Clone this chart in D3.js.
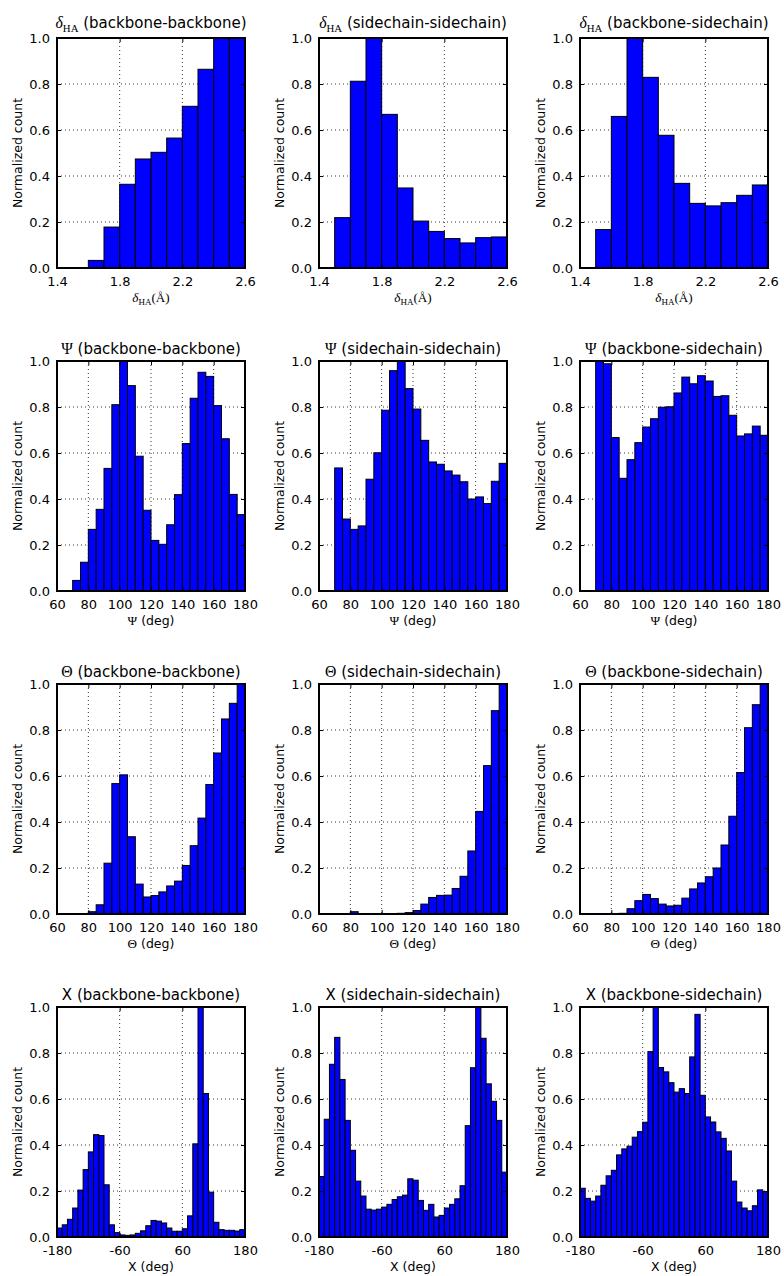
<!DOCTYPE html>
<html><head><meta charset="utf-8">
<script src="https://cdn.jsdelivr.net/npm/d3@7"></script>
<style>
body{margin:0;background:#fff}
svg{display:block}
text{font-family:"DejaVu Sans",sans-serif;fill:#000}
</style>
</head><body>
<svg id="chart" width="784" height="1276"></svg>
<script>
// ---------- data ----------
const pairs = ["backbone-backbone", "sidechain-sidechain", "backbone-sidechain"];
const yTicks = [0, 0.2, 0.4, 0.6, 0.8, 1.0];
const yTickLabels = ["0.0", "0.2", "0.4", "0.6", "0.8", "1.0"];

const deltaBins = [1.4, 1.5, 1.6, 1.7, 1.8, 1.9, 2.0, 2.1, 2.2, 2.3, 2.4, 2.5];
const deltaTicks = [1.4, 1.8, 2.2, 2.6];
const deltaTickLabels = ["1.4", "1.8", "2.2", "2.6"];
const angleBins = [60, 65, 70, 75, 80, 85, 90, 95, 100, 105, 110, 115, 120, 125, 130, 135, 140, 145, 150, 155, 160, 165, 170, 175];
const angleTicks = [60, 80, 100, 120, 140, 160, 180];
const angleTickLabels = ["60", "80", "100", "120", "140", "160", "180"];
const chiBins = [-180, -170, -160, -150, -140, -130, -120, -110, -100, -90, -80, -70, -60, -50, -40, -30, -20, -10,
                 0, 10, 20, 30, 40, 50, 60, 70, 80, 90, 100, 110, 120, 130, 140, 150, 160, 170];
const chiTicks = [-180, -60, 60, 180];
const chiTickLabels = ["-180", "-60", "60", "180"];

const deltaBB = [0, 0, 0.033, 0.178, 0.364, 0.474, 0.503, 0.565, 0.703, 0.864, 1.0, 1.0];
const deltaSS = [0, 0.219, 0.812, 1.0, 0.668, 0.348, 0.204, 0.159, 0.128, 0.109, 0.132, 0.135];
const deltaBS = [0, 0.167, 0.659, 1.0, 0.829, 0.577, 0.368, 0.281, 0.27, 0.284, 0.316, 0.361];

const psiBB = [0, 0, 0.046, 0.125, 0.268, 0.355, 0.533, 0.81, 1.0, 0.893, 0.586, 0.351, 0.22, 0.203, 0.288, 0.419, 0.641, 0.838, 0.951, 0.933, 0.806, 0.662, 0.42, 0.332];
const psiSS = [0, 0, 0.535, 0.313, 0.268, 0.283, 0.486, 0.601, 0.786, 0.958, 1.0, 0.88, 0.791, 0.655, 0.561, 0.551, 0.522, 0.504, 0.475, 0.4, 0.409, 0.38, 0.477, 0.555];
const psiBS = [0, 0, 1.0, 0.988, 0.667, 0.49, 0.571, 0.645, 0.713, 0.749, 0.799, 0.801, 0.861, 0.93, 0.901, 0.936, 0.913, 0.846, 0.849, 0.764, 0.674, 0.683, 0.717, 0.677];

const thetaBB = [0, 0, 0, 0, 0.01, 0.04, 0.221, 0.567, 0.605, 0.336, 0.13, 0.074, 0.08, 0.096, 0.122, 0.143, 0.211, 0.297, 0.417, 0.563, 0.7, 0.848, 0.916, 1.0];
const thetaSS = [0, 0, 0, 0, 0.01, 0.001, 0.001, 0.001, 0.001, 0.002, 0.003, 0.006, 0.015, 0.043, 0.072, 0.081, 0.082, 0.111, 0.164, 0.274, 0.446, 0.645, 0.884, 1.0];
const thetaBS = [0, 0, 0, 0, 0.001, 0.003, 0.023, 0.058, 0.085, 0.067, 0.043, 0.035, 0.038, 0.069, 0.109, 0.135, 0.162, 0.2, 0.3, 0.425, 0.615, 0.81, 0.91, 1.0];

const chiBB = [0.039, 0.053, 0.077, 0.126, 0.204, 0.293, 0.37, 0.445, 0.441, 0.227, 0.053, 0.019, 0.009, 0.007, 0.009, 0.016, 0.027, 0.049,
               0.072, 0.069, 0.061, 0.039, 0.025, 0.025, 0.036, 0.092, 0.405, 1.0, 0.624, 0.195, 0.064, 0.032, 0.029, 0.029, 0.026, 0.032];
const chiSS = [0.263, 0.512, 0.751, 0.868, 0.685, 0.507, 0.377, 0.243, 0.178, 0.121, 0.117, 0.121, 0.13, 0.142, 0.163, 0.175, 0.182, 0.253,
               0.247, 0.159, 0.116, 0.142, 0.087, 0.094, 0.126, 0.142, 0.166, 0.223, 0.484, 0.736, 1.0, 0.864, 0.666, 0.59, 0.507, 0.282];
const chiBS = [0.212, 0.168, 0.156, 0.178, 0.225, 0.266, 0.29, 0.357, 0.383, 0.395, 0.434, 0.458, 0.499, 0.806, 1.0, 0.737, 0.718, 0.671,
               0.63, 0.645, 0.624, 0.783, 0.968, 0.616, 0.522, 0.5, 0.457, 0.429, 0.374, 0.243, 0.152, 0.126, 0.114, 0.136, 0.205, 0.197];

// ---------- rows (built from the arrays above) ----------
const rows = [
  {sym: "delta", bins: deltaBins, bw: 0.1, domain: [1.4, 2.6], ticks: deltaTicks, labels: deltaTickLabels, series: [deltaBB, deltaSS, deltaBS]},
  {sym: "Ψ", bins: angleBins, bw: 5, domain: [60, 180], ticks: angleTicks, labels: angleTickLabels, series: [psiBB, psiSS, psiBS]},
  {sym: "Θ", bins: angleBins, bw: 5, domain: [60, 180], ticks: angleTicks, labels: angleTickLabels, series: [thetaBB, thetaSS, thetaBS]},
  {sym: "X", bins: chiBins, bw: 10, domain: [-180, 180], ticks: chiTicks, labels: chiTickLabels, series: [chiBB, chiSS, chiBS]}
];

// ---------- layout ----------
const colX = [57, 319, 580];
const rowY = [38, 361, 684, 1007];
const W = 188, H = 230;
const baseFont = 12.5, tickFont = 13, titleFont = 15;
const serif = '"Liberation Serif","DejaVu Serif",serif';

const svg = d3.select("#chart");

function addSymbol(text, sym, size, subDy) {
  if (sym === "delta") {
    text.append("tspan").attr("font-family", serif).attr("font-style", "italic").attr("font-size", size * 1.05).text("δ");
    text.append("tspan").attr("font-family", serif).attr("font-size", size * 0.72).attr("dy", subDy).text("HA");
    return subDy;
  } else if (sym === "X") {
    text.append("tspan").text("X");
  } else {
    text.append("tspan").attr("font-family", serif).attr("font-size", size * 1.05).text(sym);
  }
  return 0;
}

rows.forEach((row, ri) => {
  row.series.forEach((vals, ci) => {
    const g = svg.append("g").attr("transform", `translate(${colX[ci]},${rowY[ri]})`);
    const x = d3.scaleLinear().domain(row.domain).range([0, W]);
    const y = d3.scaleLinear().domain([0, 1]).range([H, 0]);

    // grid
    const grid = g.append("g");
    grid.selectAll("line.v").data(row.ticks).join("line")
      .attr("x1", d => x(d)).attr("x2", d => x(d)).attr("y1", 0).attr("y2", H)
      .attr("stroke", "#000").attr("stroke-width", 0.8).attr("stroke-dasharray", "1,3");
    grid.selectAll("line.h").data(yTicks).join("line")
      .attr("y1", d => y(d)).attr("y2", d => y(d)).attr("x1", 0).attr("x2", W)
      .attr("stroke", "#000").attr("stroke-width", 0.8).attr("stroke-dasharray", "1,3");

    // bars
    const data = row.bins.map((b, i) => ({b, v: vals[i]})).filter(d => d.v > 0);
    g.append("g").selectAll("rect").data(data).join("rect")
      .attr("x", d => x(d.b)).attr("width", d => x(d.b + row.bw) - x(d.b))
      .attr("y", d => y(d.v)).attr("height", d => y(0) - y(d.v))
      .attr("fill", "#0000ff").attr("stroke", "#000").attr("stroke-width", 1);

    // axes
    const lab = (arr, ticks) => (d => arr[ticks.indexOf(d)]);
    const xb = g.append("g").attr("transform", `translate(0,${H})`)
      .call(d3.axisBottom(x).tickValues(row.ticks).tickFormat(lab(row.labels, row.ticks)).tickSizeInner(-4).tickSizeOuter(0).tickPadding(9));
    const xt = g.append("g")
      .call(d3.axisTop(x).tickValues(row.ticks).tickFormat("").tickSizeInner(-4).tickSizeOuter(0));
    const yl = g.append("g")
      .call(d3.axisLeft(y).tickValues(yTicks).tickFormat(lab(yTickLabels, yTicks)).tickSizeInner(-4).tickSizeOuter(0).tickPadding(7));
    const yr = g.append("g").attr("transform", `translate(${W},0)`)
      .call(d3.axisRight(y).tickValues(yTicks).tickFormat("").tickSizeInner(-4).tickSizeOuter(0));
    [xb, xt, yl, yr].forEach(a => {
      a.select(".domain").remove();
      a.selectAll("line").attr("stroke", "#000").attr("stroke-width", 1);
      a.selectAll("text").attr("font-family", '"DejaVu Sans",sans-serif').attr("font-size", tickFont).attr("fill", "#000");
    });

    // frame
    g.append("rect").attr("x", 0).attr("y", 0).attr("width", W).attr("height", H)
      .attr("fill", "none").attr("stroke", "#000").attr("stroke-width", 2);

    // title
    const t = g.append("text").attr("x", W / 2).attr("y", ri === 0 ? -10 : -7)
      .attr("text-anchor", "middle").attr("font-size", titleFont);
    const sd = addSymbol(t, row.sym, titleFont, 3.5);
    t.append("tspan").attr("dy", -sd).text(" (" + pairs[ci] + ")");

    // x label
    const xlab = g.append("text").attr("x", W / 2).attr("y", H + 34)
      .attr("text-anchor", "middle").attr("font-size", baseFont);
    if (row.sym === "delta") {
      const s = addSymbol(xlab, "delta", baseFont, 3);
      xlab.append("tspan").attr("dy", -s).attr("font-family", serif).attr("font-size", baseFont * 1.05).text("(Å)");
    } else {
      addSymbol(xlab, row.sym, baseFont, 0);
      xlab.append("tspan").text(" (deg)");
    }

    // y label
    g.append("text").attr("transform", `translate(-39,${H / 2}) rotate(-90)`)
      .attr("text-anchor", "middle").attr("dy", "0.35em").attr("font-size", baseFont)
      .text("Normalized count");
  });
});
</script>
</body></html>
